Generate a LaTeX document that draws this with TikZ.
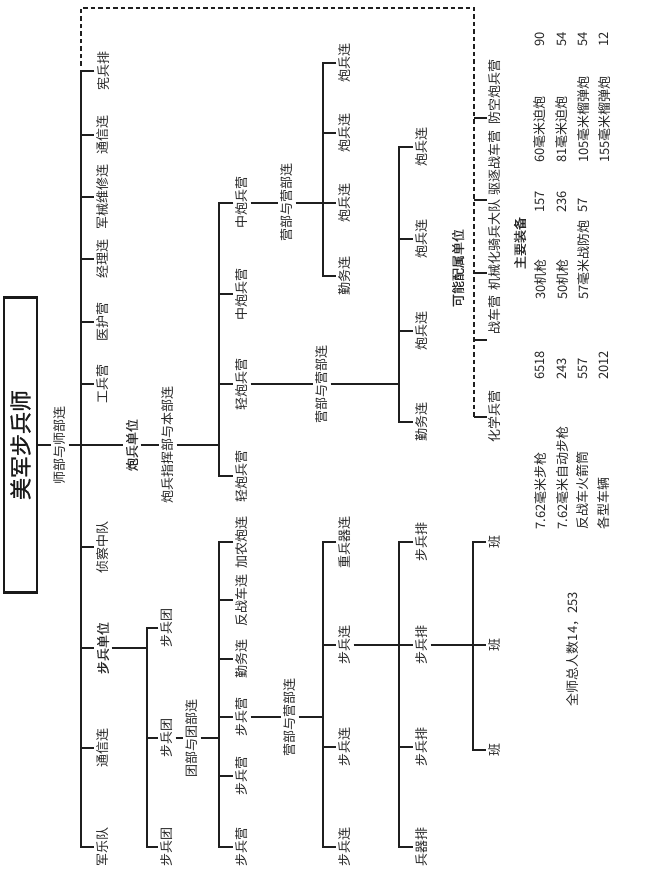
\documentclass[tikz,border=0pt]{standalone}
\usepackage{fontspec}
\setmainfont{Noto Sans CJK SC}
\newfontfamily\semib[FakeBold=0.5]{Noto Sans CJK SC}
\newfontfamily\titlef[FakeBold=1.0]{Noto Sans CJK SC}
\begin{document}
\begin{tikzpicture}[x=1pt,y=-1pt,
  lab/.style={rotate=90, inner sep=2.5pt, text=black!85, font=\fontsize{13}{15}\selectfont},
  blab/.style={lab, font=\fontsize{13}{15}\semib},
  tab/.style={lab, anchor=west, inner sep=0pt},
  titlebox/.style={rotate=90, draw=black!90, line width=2.2pt, minimum width=295pt, minimum height=33pt, inner sep=0pt, text=black!90, font=\fontsize{22}{24}\titlef},
  ln/.style={draw=black!88, line width=2pt, line join=miter},
  dsh/.style={draw=black!88, line width=2.2pt, dash pattern=on 4.5pt off 3pt}]
\useasboundingbox (0,0) rectangle (664,882);

% title
\node[titlebox] (T) at (20.5,445) {美军步兵师};
\node[lab] (hq) at (60,445) {师部与师部连};

% trunk 1
\coordinate (t1top) at (81,71);
\coordinate (t1bot) at (81,847);
\coordinate (j1) at (81,445);
\draw[ln] (T) -- (hq) -- (j1);
\node[lab] (a1) at (103,71) {宪兵排};
\node[lab] (a2) at (103,135) {通信连};
\node[lab] (a3) at (103,197) {军械维修连};
\node[lab] (a4) at (103,259) {经理连};
\node[lab] (a5) at (103,322) {医护营};
\node[lab] (a6) at (103,384) {工兵营};
\node[lab] (a7) at (103,547) {侦察中队};
\node[blab] (inf) at (103,648) {步兵单位};
\node[lab] (a9) at (103,748) {通信连};
\node[lab] (a10) at (103,847) {军乐队};
\draw[ln] (a1) -- (t1top) -- (t1bot) -- (a10);
\foreach \n in {a2,a3,a4,a5,a6,a7,a9} \draw[ln] (t1top |- \n) -- (\n);

% dashed frame
\coordinate (dA) at (81,66);
\coordinate (dB) at (81,8);
\coordinate (dC) at (474,8);
\coordinate (dD) at (474,417);
\draw[dsh] (dA) -- (dB) -- (dC) -- (dD);
\node[blab] (f) at (458,268) {可能配属单位};
\node[lab] (e1) at (495,92) {防空炮兵营};
\node[lab] (e2) at (495,163) {驱逐战车营};
\node[lab] (e3) at (495,245) {机械化骑兵大队};
\node[lab] (e4) at (495,315) {战车营};
\node[lab] (e5) at (495,416) {化学兵营};
\foreach \y in {118,200,273,340,417} \draw[ln] (474,\y) -- (487,\y);

% artillery
\node[blab] (art) at (132,445) {炮兵单位};
\node[lab] (artHQ) at (168,445) {炮兵指挥部与本部连};
\coordinate (t2top) at (219,203);
\coordinate (t2bot) at (219,476);
\draw[ln] (j1) -- (art) -- (artHQ) -- (t2top |- art);
\node[lab] (b1) at (242,203) {中炮兵营};
\node[lab] (b2) at (242,294) {中炮兵营};
\node[lab] (b3) at (242,384) {轻炮兵营};
\node[lab] (b4) at (242,476) {轻炮兵营};
\draw[ln] (b1) -- (t2top) -- (t2bot) -- (b4);
\foreach \n in {b2,b3} \draw[ln] (t2top |- \n) -- (\n);

\node[lab] (bHQ1) at (287,203) {营部与营部连};
\coordinate (t3top) at (323,63);
\coordinate (t3bot) at (323,276);
\draw[ln] (b1) -- (bHQ1) -- (t3top |- bHQ1);
\node[lab] (c1) at (345,63) {炮兵连};
\node[lab] (c2) at (345,133) {炮兵连};
\node[lab] (c3) at (345,203) {炮兵连};
\node[lab] (c4) at (345,276) {勤务连};
\draw[ln] (c1) -- (t3top) -- (t3bot) -- (c4);
\foreach \n in {c2,c3} \draw[ln] (t3top |- \n) -- (\n);

\node[lab] (bHQ2) at (322,384) {营部与营部连};
\coordinate (t4top) at (399,147);
\coordinate (t4bot) at (399,422);
\draw[ln] (b3) -- (bHQ2) -- (t4top |- bHQ2);
\node[lab] (d1) at (422,147) {炮兵连};
\node[lab] (d2) at (422,239) {炮兵连};
\node[lab] (d3) at (422,331) {炮兵连};
\node[lab] (d4) at (422,422) {勤务连};
\draw[ln] (d1) -- (t4top) -- (t4bot) -- (d4);
\foreach \n in {d2,d3} \draw[ln] (t4top |- \n) -- (\n);

% equipment table
\node[blab] (g) at (520,243) {主要装备};
\node[tab] at (540,530) {7.62毫米步枪};
\node[tab] at (540,380) {6518};
\node[tab] at (540,300) {30机枪};
\node[tab] at (540,213) {157};
\node[tab] at (540,163) {60毫米迫炮};
\node[tab] at (540,47) {90};
\node[tab] at (562,530) {7.62毫米自动步枪};
\node[tab] at (562,380) {243};
\node[tab] at (562,300) {50机枪};
\node[tab] at (562,213) {236};
\node[tab] at (562,163) {81毫米迫炮};
\node[tab] at (562,47) {54};
\node[tab] at (583,530) {反战车火箭筒};
\node[tab] at (583,380) {557};
\node[tab] at (583,300) {57毫米战防炮};
\node[tab] at (583,213) {57};
\node[tab] at (583,163) {105毫米榴弹炮};
\node[tab] at (583,47) {54};
\node[tab] at (604,530) {各型车辆};
\node[tab] at (604,380) {2012};
\node[tab] at (604,163) {155毫米榴弹炮};
\node[tab] at (604,47) {12};
\node[lab] (h) at (573,649) {全师总人数14，253};

% infantry
\coordinate (t5top) at (147,628);
\coordinate (t5bot) at (147,847);
\draw[ln] (t1top |- inf) -- (inf) -- (t5top |- inf);
\node[lab] (r1) at (167,628) {步兵团};
\node[lab] (r2) at (167,738) {步兵团};
\node[lab] (r3) at (167,847) {步兵团};
\draw[ln] (r1) -- (t5top) -- (t5bot) -- (r3);
\draw[ln] (t5top |- r2) -- (r2);

\node[lab] (rHQ) at (192,738) {团部与团部连};
\coordinate (t6top) at (219,542);
\coordinate (t6bot) at (219,847);
\draw[ln] (r2) -- (rHQ) -- (t6top |- rHQ);
\node[lab] (s1) at (242,542) {加农炮连};
\node[lab] (s2) at (242,600) {反战车连};
\node[lab] (s3) at (242,659) {勤务连};
\node[lab] (s4) at (242,717) {步兵营};
\node[lab] (s5) at (242,776) {步兵营};
\node[lab] (s6) at (242,847) {步兵营};
\draw[ln] (s1) -- (t6top) -- (t6bot) -- (s6);
\foreach \n in {s2,s3,s4,s5} \draw[ln] (t6top |- \n) -- (\n);

\node[lab] (sHQ) at (290,717) {营部与营部连};
\coordinate (t7top) at (323,542);
\coordinate (t7bot) at (323,847);
\draw[ln] (s4) -- (sHQ) -- (t7top |- sHQ);
\node[lab] (u1) at (345,542) {重兵器连};
\node[lab] (u2) at (345,645) {步兵连};
\node[lab] (u3) at (345,747) {步兵连};
\node[lab] (u4) at (345,847) {步兵连};
\draw[ln] (u1) -- (t7top) -- (t7bot) -- (u4);
\foreach \n in {u2,u3} \draw[ln] (t7top |- \n) -- (\n);

\coordinate (t8top) at (399,542);
\coordinate (t8bot) at (399,847);
\draw[ln] (u2) -- (t8top |- u2);
\node[lab] (v1) at (422,542) {步兵排};
\node[lab] (v2) at (422,645) {步兵排};
\node[lab] (v3) at (422,747) {步兵排};
\node[lab] (v4) at (422,847) {兵器排};
\draw[ln] (v1) -- (t8top) -- (t8bot) -- (v4);
\foreach \n in {v2,v3} \draw[ln] (t8top |- \n) -- (\n);

\coordinate (t9top) at (473,542);
\coordinate (t9bot) at (473,750);
\draw[ln] (v2) -- (t9top |- v2);
\node[lab] (w1) at (495,542) {班};
\node[lab] (w2) at (495,645) {班};
\node[lab] (w3) at (495,750) {班};
\draw[ln] (w1) -- (t9top) -- (t9bot) -- (w3);
\draw[ln] (t9top |- w2) -- (w2);
\end{tikzpicture}
\end{document}
